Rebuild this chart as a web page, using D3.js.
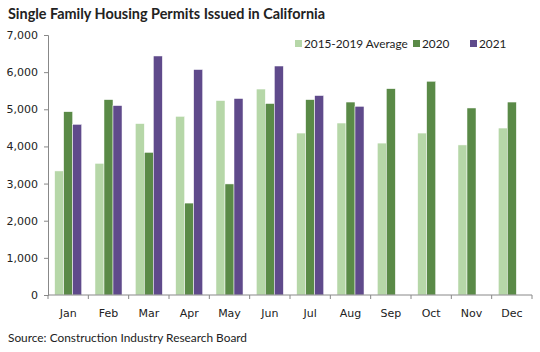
<!DOCTYPE html>
<html>
<head>
<meta charset="utf-8">
<script src="https://cdn.jsdelivr.net/npm/d3@7"></script>
<style>
  body { margin: 0; background: #fff; }
  svg { display: block; }
</style>
</head>
<body>
<svg id="chart" width="540" height="352"></svg>
<script>
var months = ["Jan","Feb","Mar","Apr","May","Jun","Jul","Aug","Sep","Oct","Nov","Dec"];
var seriesNames = ["2015-2019 Average", "2020", "2021"];
var avg1519 = [3340, 3545, 4615, 4810, 5235, 5545, 4360, 4630, 4090, 4360, 4040, 4495];
var y2020 = [4935, 5260, 3840, 2475, 2990, 5155, 5260, 5195, 5555, 5755, 5035, 5195];
var y2021 = [4595, 5100, 6435, 6070, 5290, 6165, 5370, 5080, null, null, null, null];
var yTicks = [0, 1000, 2000, 3000, 4000, 5000, 6000, 7000];
var colors = ["#b6d7a8", "#5a8a47", "#5f4a8b"];

window.addEventListener( "load", makeChart );
function makeChart() {
    var svg = d3.select( "#chart" );
    var left = 48, right = 532, top = 35, bottom = 295;
    var txtFont = "Lato, 'Open Sans', sans-serif";

    var x = d3.scaleBand().domain( months ).range( [left, right] ).paddingInner( 0.33 ).paddingOuter( 0.165 );
    var xs = d3.scaleBand().domain( seriesNames ).range( [0, x.bandwidth()] );
    var y = d3.scaleLinear().domain( [0, 7000] ).range( [bottom, top] );
    var step = (right - left) / months.length;

    // title
    svg.append( "text" ).attr( "x", 8 ).attr( "y", 19 )
        .attr( "font-family", txtFont ).attr( "font-weight", "bold" )
        .attr( "font-size", 15 ).attr( "fill", "#222" )
        .attr( "textLength", 317 ).attr( "lengthAdjust", "spacingAndGlyphs" )
        .text( "Single Family Housing Permits Issued in California" );

    // bars
    var all = [avg1519, y2020, y2021];
    var rows = [];
    months.forEach( (m, i) => all.forEach( (s, k) => {
        if( s[i] != null ) rows.push( { m: m, k: k, v: s[i] } );
    } ) );
    svg.append( "g" ).selectAll( "rect" ).data( rows ).enter()
        .append( "rect" )
        .attr( "x", d=>x(d.m) + xs(seriesNames[d.k]) )
        .attr( "y", d=>y(d.v) )
        .attr( "width", xs.bandwidth() )
        .attr( "height", d=>bottom - y(d.v) )
        .attr( "fill", d=>colors[d.k] )
        .attr( "stroke", "#fff" ).attr( "stroke-width", 0.5 );

    // y axis
    var ya = svg.append( "g" ).attr( "transform", "translate(" + left + ",0)" )
        .call( d3.axisLeft( y ).tickValues( yTicks ).tickSize( 4 ).tickPadding( 6 )
               .tickFormat( d3.format( "," ) ) );
    ya.select( ".domain" ).attr( "stroke", "#888" );
    ya.selectAll( ".tick line" ).attr( "stroke", "#888" );
    ya.selectAll( "text" ).attr( "font-family", "'DejaVu Sans', sans-serif" )
        .attr( "font-size", 11 ).attr( "fill", "#222" );

    // x axis
    svg.append( "line" ).attr( "x1", left ).attr( "x2", right )
        .attr( "y1", bottom ).attr( "y2", bottom ).attr( "stroke", "#888" );
    svg.append( "g" ).selectAll( "line" ).data( d3.range( months.length + 1 ) ).enter()
        .append( "line" )
        .attr( "x1", i=>left + i*step ).attr( "x2", i=>left + i*step )
        .attr( "y1", bottom ).attr( "y2", bottom + 4 ).attr( "stroke", "#888" );
    svg.append( "g" ).selectAll( "text" ).data( months ).enter()
        .append( "text" )
        .attr( "x", d=>x(d) + x.bandwidth()/2 ).attr( "y", 317 )
        .attr( "text-anchor", "middle" )
        .attr( "font-family", "'DejaVu Sans', sans-serif" ).attr( "font-size", 11 )
        .attr( "fill", "#222" )
        .text( d=>d );

    // legend
    var legX = [295, 413, 470];
    var leg = svg.append( "g" ).selectAll( "g" ).data( seriesNames ).enter()
        .append( "g" ).attr( "transform", (d,i)=>"translate(" + legX[i] + ",40)" );
    leg.append( "rect" ).attr( "width", 7 ).attr( "height", 7 ).attr( "y", 0 )
        .attr( "fill", (d,i)=>colors[i] );
    leg.append( "text" ).attr( "x", 9 ).attr( "y", 7.5 )
        .attr( "font-family", txtFont ).attr( "font-size", 11.8 )
        .attr( "fill", "#222" ).text( d=>d );

    // source
    svg.append( "text" ).attr( "x", 8 ).attr( "y", 342 )
        .attr( "font-family", txtFont ).attr( "font-size", 12 )
        .attr( "fill", "#222" )
        .attr( "textLength", 239 ).attr( "lengthAdjust", "spacingAndGlyphs" )
        .text( "Source: Construction Industry Research Board" );
}
</script>
</body>
</html>
